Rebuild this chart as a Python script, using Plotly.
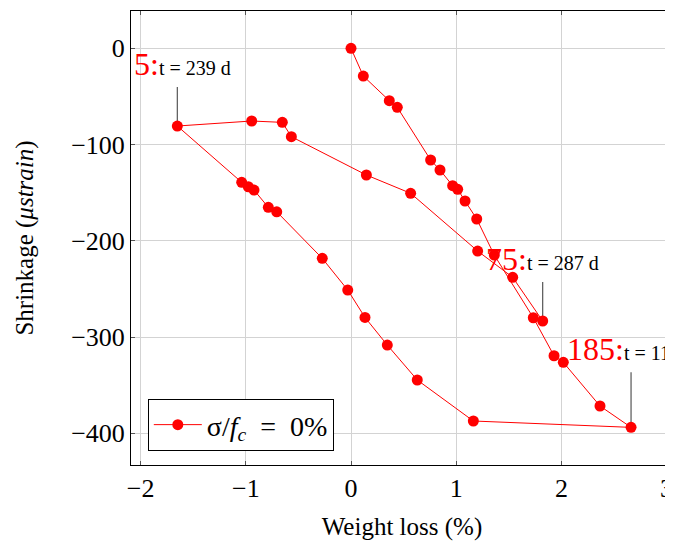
import plotly.graph_objects as go

# ---- data ----
weight_loss = [0.0, 0.117, 0.364, 0.44, 0.757, 0.846, 0.966, 1.014, 1.084, 1.195,
               1.362, 1.733, 1.93, 2.018, 2.367, 2.662, 1.163, 0.63, 0.345, 0.133,
               -0.031, -0.273, -0.706, -0.786, -0.922, -0.976, -1.039, -1.651,
               -0.944, -0.653, -0.567, 0.146, 0.567, 1.204, 1.537, 1.822]
shrinkage = [0.0, -28.8, -54.4, -61.3, -116.0, -126.4, -142.7, -146.5, -158.6, -177.3,
             -214.8, -279.9, -319.4, -326.2, -371.6, -393.8, -387.2, -344.6, -308.3, -279.6,
             -251.1, -218.2, -169.8, -165.2, -147.2, -143.8, -139.2, -80.7,
             -75.5, -76.9, -91.8, -131.6, -150.6, -210.6, -237.9, -283.3]

pin_index = [15, 27, 35]
pin_prefix = ["185:", "5:", "75:"]
pin_text = ["t = 110 d", "t = 239 d", "t = 287 d"]

x_ticks = [-2, -1, 0, 1, 2, 3]
y_ticks = [-400, -300, -200, -100, 0]
x_ticklabels = ["\u22122", "\u22121", "0", "1", "2", "3"]
y_ticklabels = ["\u2212400", "\u2212300", "\u2212200", "\u2212100", "0"]

series_name = "\u03c3/<i>f</i><sub><i>c</i></sub>\u2002=\u20020%"

FONT = "Liberation Serif, Times New Roman, DejaVu Serif, serif"

fig = go.Figure()
fig.add_trace(go.Scatter(
    x=weight_loss, y=shrinkage, mode="lines+markers",
    line=dict(color="#ff0000", width=1),
    marker=dict(color="#ff0000", size=11),
    name=series_name, showlegend=True, cliponaxis=True,
))

# pins and labels
pin_len = [55, 39, 39]
anchors = ["center", "left", "center"]
xshifts = [0, -44, 0]
for k, idx in enumerate(pin_index):
    px, py = weight_loss[idx], shrinkage[idx]
    fig.add_shape(type="line", xref="x", yref="y", ysizemode="pixel", yanchor=py,
                  x0=px, x1=px, y0=0, y1=pin_len[k],
                  line=dict(color="#555555", width=1.2), layer="between")
    fig.add_annotation(
        x=px, y=py, xref="x", yref="y", showarrow=False,
        text=f'<span style="color:#ff0000;font-size:32px">{pin_prefix[k]}</span>{pin_text[k]}',
        font=dict(family=FONT, size=20, color="black"),
        xanchor=anchors[k], yanchor="bottom", xshift=xshifts[k], yshift=pin_len[k] + 4,
        borderpad=0,
    )

# page body has an 8px margin: figure is sized so the plot lands where the reference has it
fig.update_layout(
    width=665, height=533,
    margin=dict(l=123, r=0, t=3, b=76),
    paper_bgcolor="white", plot_bgcolor="white",
    font=dict(family=FONT, size=24, color="black"),
    showlegend=True,
    legend=dict(x=0.031, y=0.031, xanchor="left", yanchor="bottom",
                bordercolor="black", borderwidth=1, bgcolor="white",
                font=dict(family=FONT, size=28, color="black"), itemwidth=48),
    xaxis=dict(range=[-2.0913, 3.0608], tickvals=x_ticks, ticktext=x_ticklabels,
               ticks="inside", ticklen=4, tickcolor="#555555", tickwidth=1,
               showgrid=True, gridcolor="#d3d3d3", gridwidth=1,
               showline=True, linecolor="black", linewidth=1, mirror="ticks",
               zeroline=False, tickfont=dict(family=FONT, size=26),
               ticklabeloverflow="allow",
               title=dict(text="Weight loss (%)", font=dict(family=FONT, size=25), standoff=15),
               automargin=False),
    yaxis=dict(range=[-432.9, 38.8], tickvals=y_ticks, ticktext=y_ticklabels,
               ticks="inside", ticklen=4, tickcolor="#555555", tickwidth=1,
               showgrid=True, gridcolor="#d3d3d3", gridwidth=1,
               showline=True, linecolor="black", linewidth=1, mirror=False,
               zeroline=False, tickfont=dict(family=FONT, size=26),
               title=dict(text="Shrinkage (<i>\u03bcstrain</i>)", font=dict(family=FONT, size=25), standoff=30),
               automargin=False),
)

fig.write_html("out.html")
